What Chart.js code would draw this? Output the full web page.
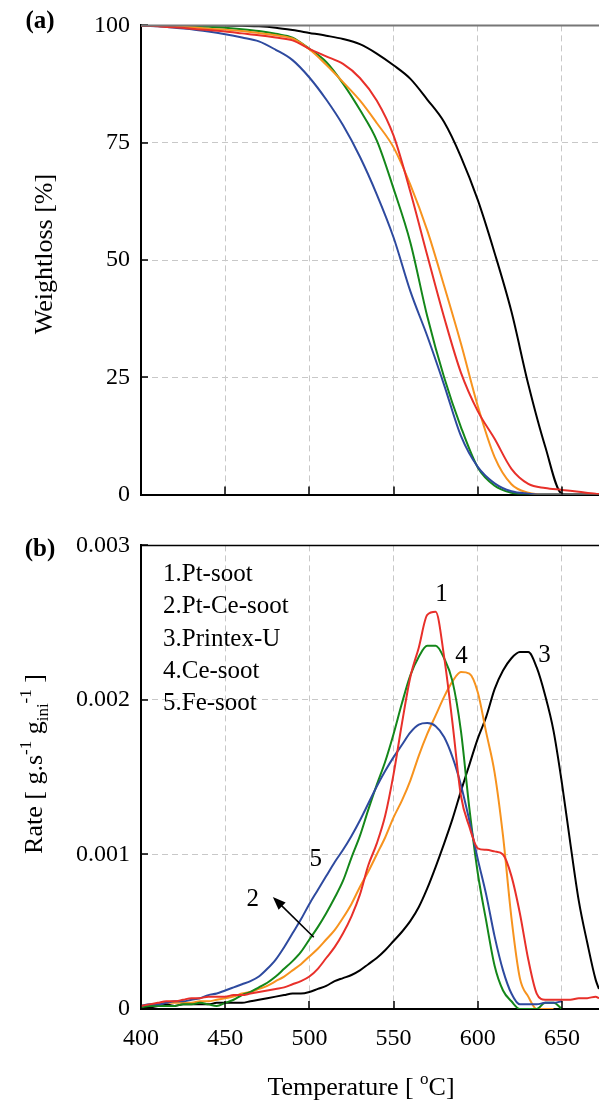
<!DOCTYPE html>
<html>
<head>
<meta charset="utf-8">
<title>Soot oxidation TGA / DTG</title>
<script src="https://cdn.jsdelivr.net/npm/chart.js@4.4.1/dist/chart.umd.min.js"></script>
<style>
  html, body { margin: 0; padding: 0; background: #fff; }
  #wrap { position: relative; width: 599px; height: 1108px; overflow: hidden; }
  canvas { position: absolute; left: 0; }
  #chartA { top: 0; }
  #chartB { top: 520px; }
</style>
</head>
<body>
<div id="wrap">
  <canvas id="chartA" width="599" height="520"></canvas>
  <canvas id="chartB" width="599" height="588"></canvas>
</div>
<script>
// ---------- data ----------
// (a) weight remaining [%], every 10 degC
const tempA = [400, 410, 420, 430, 440, 450, 460, 470, 480, 490, 500, 510, 520, 530,
  540, 550, 560, 570, 580, 590, 600, 610, 620, 630, 640, 650, 660, 670, 672];

const weightPrintex = [100, 100, 100, 100, 100, 100, 99.9, 99.8, 99.5, 99.0, 98.4, 97.8, 97.1, 96.0,
  94.0, 91.5, 88.6, 84.2, 79.4, 72.0, 62.8, 51.5, 39.0, 23.5, 10.3, 0.2, 0, 0, 0];
const weightFe = [100, 99.8, 99.5, 99.2, 98.7, 98.1, 97.4, 96.6, 94.8, 92.6, 88.9, 84.2, 78.7, 72.0,
  64.0, 54.8, 43.3, 33.8, 23.4, 12.5, 5.9, 2.4, 0.7, 0.2, 0, 0, 0, 0, 0];
const weightPtCe = [100, 100, 99.9, 99.8, 99.7, 99.5, 99.2, 98.8, 98.2, 97.4, 95.0, 92.2, 87.6, 82.0,
  75.5, 65.2, 53.7, 38.0, 25.0, 14.4, 5.8, 1.9, 0.4, 0, 0, 0, 0, 0, 0];
const weightCe = [100, 99.9, 99.8, 99.6, 99.3, 99.1, 98.8, 98.4, 97.9, 97.2, 94.9, 91.6, 87.9, 84.0,
  79.2, 74.0, 66.0, 56.3, 44.5, 32.2, 18.9, 8.0, 2.2, 0.4, 0, 0, 0, 0, 0];
const weightPt = [100, 99.8, 99.6, 99.3, 99.0, 98.7, 98.3, 97.9, 97.4, 96.8, 95.0, 93.4, 91.8, 88.8,
  84.0, 76.5, 64.5, 51.0, 37.8, 26.0, 17.8, 11.9, 5.5, 2.3, 1.4, 1.0, 0.6, 0.2, 0.1];

// (b) oxidation rate [g.s-1.g_ini-1], every 5 degC
const tempB = [400, 405, 410, 415, 420, 425, 430, 435, 440, 445, 450, 455, 460, 465, 470, 475,
  480, 485, 490, 495, 500, 505, 510, 515, 520, 525, 530, 535, 540, 545, 550, 555, 560, 565,
  570, 575, 580, 585, 590, 595, 600, 605, 610, 615, 620, 625, 630, 635, 640, 645, 650, 655,
  660, 665, 670, 672];

const ratePt = [0.00002, 0.00003, 0.00004, 0.00005, 0.00005, 0.00006, 0.00007, 0.00007, 0.00008, 0.00008,
  0.00008, 0.00009, 0.00009, 0.00010, 0.00011, 0.00012, 0.00013, 0.00014, 0.00016, 0.00018,
  0.00021, 0.00026, 0.00033, 0.00040, 0.00049, 0.00060, 0.00074, 0.00093, 0.00107, 0.00125,
  0.00152, 0.00185, 0.00215, 0.00234, 0.00255, 0.00257, 0.00228, 0.00185, 0.00138, 0.00118,
  0.00104, 0.00103, 0.00102, 0.00100, 0.00086, 0.00062, 0.00032, 0.00010, 0.00006, 0.00006,
  0.00006, 0.00006, 0.00007, 0.00007, 0.00008, 0.00007];
const ratePtCe = [0.00001, 0.00002, 0.00002, 0.00002, 0.00002, 0.00003, 0.00003, 0.00004, 0.00003, 0.00002,
  0.00004, 0.00006, 0.00009, 0.00011, 0.00014, 0.00017, 0.00021, 0.00026, 0.00031, 0.00037,
  0.00045, 0.00053, 0.00062, 0.00072, 0.00083, 0.00098, 0.00112, 0.00129, 0.00145, 0.00160,
  0.00178, 0.00198, 0.00216, 0.00228, 0.00235, 0.00235, 0.00227, 0.00212, 0.00180, 0.00130,
  0.00088, 0.00057, 0.00028, 0.00012, 0.00005, 0, 0, 0, 0.00004, 0.00004,
  0, null, null, null, null, null];
const ratePrintex = [0.00001, 0.00001, 0.00002, 0.00003, 0.00002, 0.00003, 0.00003, 0.00003, 0.00003, 0.00004,
  0.00004, 0.00004, 0.00004, 0.00005, 0.00006, 0.00007, 0.00008, 0.00009, 0.00010, 0.00010,
  0.00011, 0.00013, 0.00015, 0.00018, 0.00020, 0.00022, 0.00025, 0.00029, 0.00033, 0.00038,
  0.00044, 0.00050, 0.00057, 0.00066, 0.00078, 0.00092, 0.00107, 0.00123, 0.00141, 0.00158,
  0.00175, 0.00189, 0.00207, 0.00219, 0.00227, 0.00231, 0.00231, 0.00221, 0.00203, 0.00180,
  0.00146, 0.00107, 0.00070, 0.00043, 0.00019, 0.00013];
const rateCe = [0.00002, 0.00002, 0.00003, 0.00004, 0.00004, 0.00004, 0.00004, 0.00005, 0.00005, 0.00006,
  0.00007, 0.00008, 0.00010, 0.00011, 0.00013, 0.00015, 0.00018, 0.00021, 0.00025, 0.00029,
  0.00034, 0.00039, 0.00045, 0.00051, 0.00059, 0.00068, 0.00079, 0.00089, 0.00100, 0.00111,
  0.00124, 0.00135, 0.00148, 0.00164, 0.00178, 0.00190, 0.00202, 0.00212, 0.00218, 0.00217,
  0.00205, 0.00179, 0.00153, 0.00112, 0.00059, 0.00020, 0.00008, 0, 0, 0,
  null, null, null, null, null, null];
const rateFe = [0.00002, 0.00003, 0.00003, 0.00004, 0.00005, 0.00005, 0.00006, 0.00007, 0.00009, 0.00010,
  0.00012, 0.00014, 0.00016, 0.00018, 0.00021, 0.00026, 0.00032, 0.00040, 0.00049, 0.00058,
  0.00068, 0.00077, 0.00086, 0.00095, 0.00103, 0.00112, 0.00122, 0.00133, 0.00144, 0.00154,
  0.00163, 0.00171, 0.00179, 0.00184, 0.00185, 0.00183, 0.00176, 0.00163, 0.00145, 0.00122,
  0.00097, 0.00074, 0.00047, 0.00025, 0.00010, 0.00003, 0.00003, 0.00003, 0.00004, 0.00004,
  0.00005, null, null, null, null, null];

const legendLines = ['1.Pt-soot', '2.Pt-Ce-soot', '3.Printex-U', '4.Ce-soot', '5.Fe-soot'];
// curve numbers placed in data coordinates of panel (b)
const curveTags = [
  { t: '1', x: 578.5, y: 0.00268 },
  { t: '4', x: 590.4, y: 0.00228 },
  { t: '3', x: 639.6, y: 0.00229 },
  { t: '5', x: 503.8, y: 0.00097 },
  { t: '2', x: 466.4, y: 0.00071 }
];
const arrowFrom = { x: 502.6, y: 0.000464 };
const arrowTo = { x: 478.3, y: 0.000725 };

// ---------- styling ----------
const SERIF = "'Liberation Serif', 'DejaVu Serif', serif";
const GRID = '#c8c8c8';
const COLORS = { pt: '#e8302a', ptce: '#14871a', printex: '#000000', ce: '#f7931e', fe: '#2e4a9f' };

function series(temps, values, color) {
  return {
    data: temps.map((t, i) => ({ x: t, y: values[i] })),
    borderColor: color,
    borderWidth: 2,
    pointRadius: 0,
    fill: false,
    spanGaps: false,
    cubicInterpolationMode: 'monotone'
  };
}

function xScale(showLabels, height) {
  return {
    type: 'linear', min: 400, max: 672,
    ticks: {
      stepSize: 50, includeBounds: false, display: showLabels, padding: 15, maxRotation: 0,
      color: '#000', font: { family: SERIF, size: 24 }, callback: v => String(v)
    },
    grid: { color: GRID, lineWidth: 1, drawTicks: false },
    border: { display: true, color: '#000', width: 2, dash: [6, 4] },
    afterBuildTicks: s => { s.ticks = s.ticks.filter(t => t.value % 50 === 0); },
    afterFit: s => { s.height = height; }
  };
}

function yScale(max, step, fmt) {
  return {
    min: 0, max: max,
    ticks: {
      stepSize: step, includeBounds: false, padding: 11,
      color: '#000', font: { family: SERIF, size: 24 }, callback: fmt
    },
    grid: { color: GRID, lineWidth: 1, drawTicks: false },
    border: { display: true, color: '#000', width: 2, dash: [6, 4] },
    afterFit: s => { s.width = 141; }
  };
}

// small ticks pointing into the plot + top frame line
function frameAndTicks(topColor, topWidth) {
  return {
    id: 'frameAndTicks',
    afterDatasetsDraw(chart) {
      const { ctx, chartArea: a, scales: { x, y } } = chart;
      ctx.save();
      ctx.strokeStyle = '#000';
      ctx.lineWidth = 1.5;
      ctx.beginPath();
      x.ticks.forEach(t => {
        const px = Math.round(x.getPixelForValue(t.value));
        ctx.moveTo(px, a.bottom); ctx.lineTo(px, a.bottom - 8);
      });
      y.ticks.forEach(t => {
        const py = Math.round(y.getPixelForValue(t.value));
        ctx.moveTo(a.left, py); ctx.lineTo(a.left + 7, py);
      });
      ctx.stroke();
      ctx.strokeStyle = topColor;
      ctx.lineWidth = topWidth;
      ctx.beginPath();
      ctx.moveTo(a.left, a.top); ctx.lineTo(a.right, a.top);
      ctx.stroke();
      ctx.restore();
    }
  };
}

// text with super/subscripts, parts = [{t, s (size), dy}]
function richText(ctx, parts, cx, cy) {
  let total = 0;
  parts.forEach(p => { ctx.font = p.s + 'px ' + SERIF; p.w = ctx.measureText(p.t).width; total += p.w; });
  let x = cx - total / 2;
  ctx.textAlign = 'left';
  ctx.textBaseline = 'alphabetic';
  parts.forEach(p => {
    ctx.font = p.s + 'px ' + SERIF;
    ctx.fillText(p.t, x, cy + (p.dy || 0));
    x += p.w;
  });
}

const textA = {
  id: 'textA',
  afterDraw(chart) {
    const ctx = chart.ctx;
    ctx.save();
    ctx.fillStyle = '#000';
    ctx.font = 'bold 25px ' + SERIF;
    ctx.textAlign = 'center';
    ctx.textBaseline = 'middle';
    ctx.fillText('(a)', 40, 22);
    ctx.translate(52, 254);
    ctx.rotate(-Math.PI / 2);
    richText(ctx, [{ t: 'Weightloss [%]', s: 26 }], 0, 0);
    ctx.restore();
  }
};

const textB = {
  id: 'textB',
  afterDraw(chart) {
    const { ctx, chartArea: a, scales: { x, y } } = chart;
    ctx.save();
    ctx.fillStyle = '#000';
    ctx.strokeStyle = '#000';

    ctx.font = 'bold 25px ' + SERIF;
    ctx.textAlign = 'center';
    ctx.textBaseline = 'middle';
    ctx.fillText('(b)', 40, a.top + 4);

    // legend block
    ctx.font = '25px ' + SERIF;
    ctx.textAlign = 'left';
    legendLines.forEach((s, i) => ctx.fillText(s, a.left + 22, a.top + 29 + i * 32.3));

    // curve numbers
    ctx.textAlign = 'center';
    curveTags.forEach(n => ctx.fillText(n.t, x.getPixelForValue(n.x), y.getPixelForValue(n.y)));

    // arrow pointing at curve 2
    const x1 = x.getPixelForValue(arrowFrom.x), y1 = y.getPixelForValue(arrowFrom.y);
    const x2 = x.getPixelForValue(arrowTo.x), y2 = y.getPixelForValue(arrowTo.y);
    const ang = Math.atan2(y2 - y1, x2 - x1);
    ctx.lineWidth = 1.6;
    ctx.beginPath();
    ctx.moveTo(x1, y1);
    ctx.lineTo(x2 - 8 * Math.cos(ang), y2 - 8 * Math.sin(ang));
    ctx.stroke();
    ctx.beginPath();
    ctx.moveTo(x2, y2);
    ctx.lineTo(x2 - 13 * Math.cos(ang) + 5 * Math.sin(ang), y2 - 13 * Math.sin(ang) - 5 * Math.cos(ang));
    ctx.lineTo(x2 - 13 * Math.cos(ang) - 5 * Math.sin(ang), y2 - 13 * Math.sin(ang) + 5 * Math.cos(ang));
    ctx.closePath();
    ctx.fill();

    // x axis title
    richText(ctx, [
      { t: 'Temperature [ ', s: 26 },
      { t: 'o', s: 17, dy: -11 },
      { t: 'C]', s: 26 }
    ], 361, 575);

    // y axis title, rotated
    ctx.translate(42, 244);
    ctx.rotate(-Math.PI / 2);
    richText(ctx, [
      { t: 'Rate [ g.s', s: 26 },
      { t: '-1', s: 17, dy: -11 },
      { t: ' g', s: 26 },
      { t: 'ini', s: 17, dy: 6 },
      { t: '-1', s: 17, dy: -11 },
      { t: ' ]', s: 26 }
    ], 0, 0);
    ctx.restore();
  }
};

const common = {
  responsive: false,
  animation: false,
  devicePixelRatio: 1,
  plugins: { legend: { display: false }, tooltip: { enabled: false } }
};

new Chart(document.getElementById('chartA'), {
  type: 'line',
  data: {
    datasets: [
      series(tempA, weightPt, COLORS.pt),
      series(tempA, weightFe, COLORS.fe),
      series(tempA, weightCe, COLORS.ce),
      series(tempA, weightPtCe, COLORS.ptce),
      series(tempA, weightPrintex, COLORS.printex)
    ]
  },
  options: Object.assign({}, common, {
    layout: { padding: { top: 22, left: 0, right: 0, bottom: 0 } },
    scales: {
      x: xScale(false, 25),
      y: yScale(100, 25, v => String(v))
    }
  }),
  plugins: [frameAndTicks('#777', 2), textA]
});

new Chart(document.getElementById('chartB'), {
  type: 'line',
  data: {
    datasets: [
      series(tempB, ratePt, COLORS.pt),
      series(tempB, rateFe, COLORS.fe),
      series(tempB, ratePtCe, COLORS.ptce),
      series(tempB, rateCe, COLORS.ce),
      series(tempB, ratePrintex, COLORS.printex)
    ]
  },
  options: Object.assign({}, common, {
    layout: { padding: { top: 17, left: 0, right: 0, bottom: 0 } },
    scales: {
      x: xScale(true, 99),
      y: yScale(0.003, 0.001, v => (v === 0 ? '0' : v.toFixed(3)))
    }
  }),
  plugins: [frameAndTicks('#000', 1.5), textB]
});
</script>
</body>
</html>
